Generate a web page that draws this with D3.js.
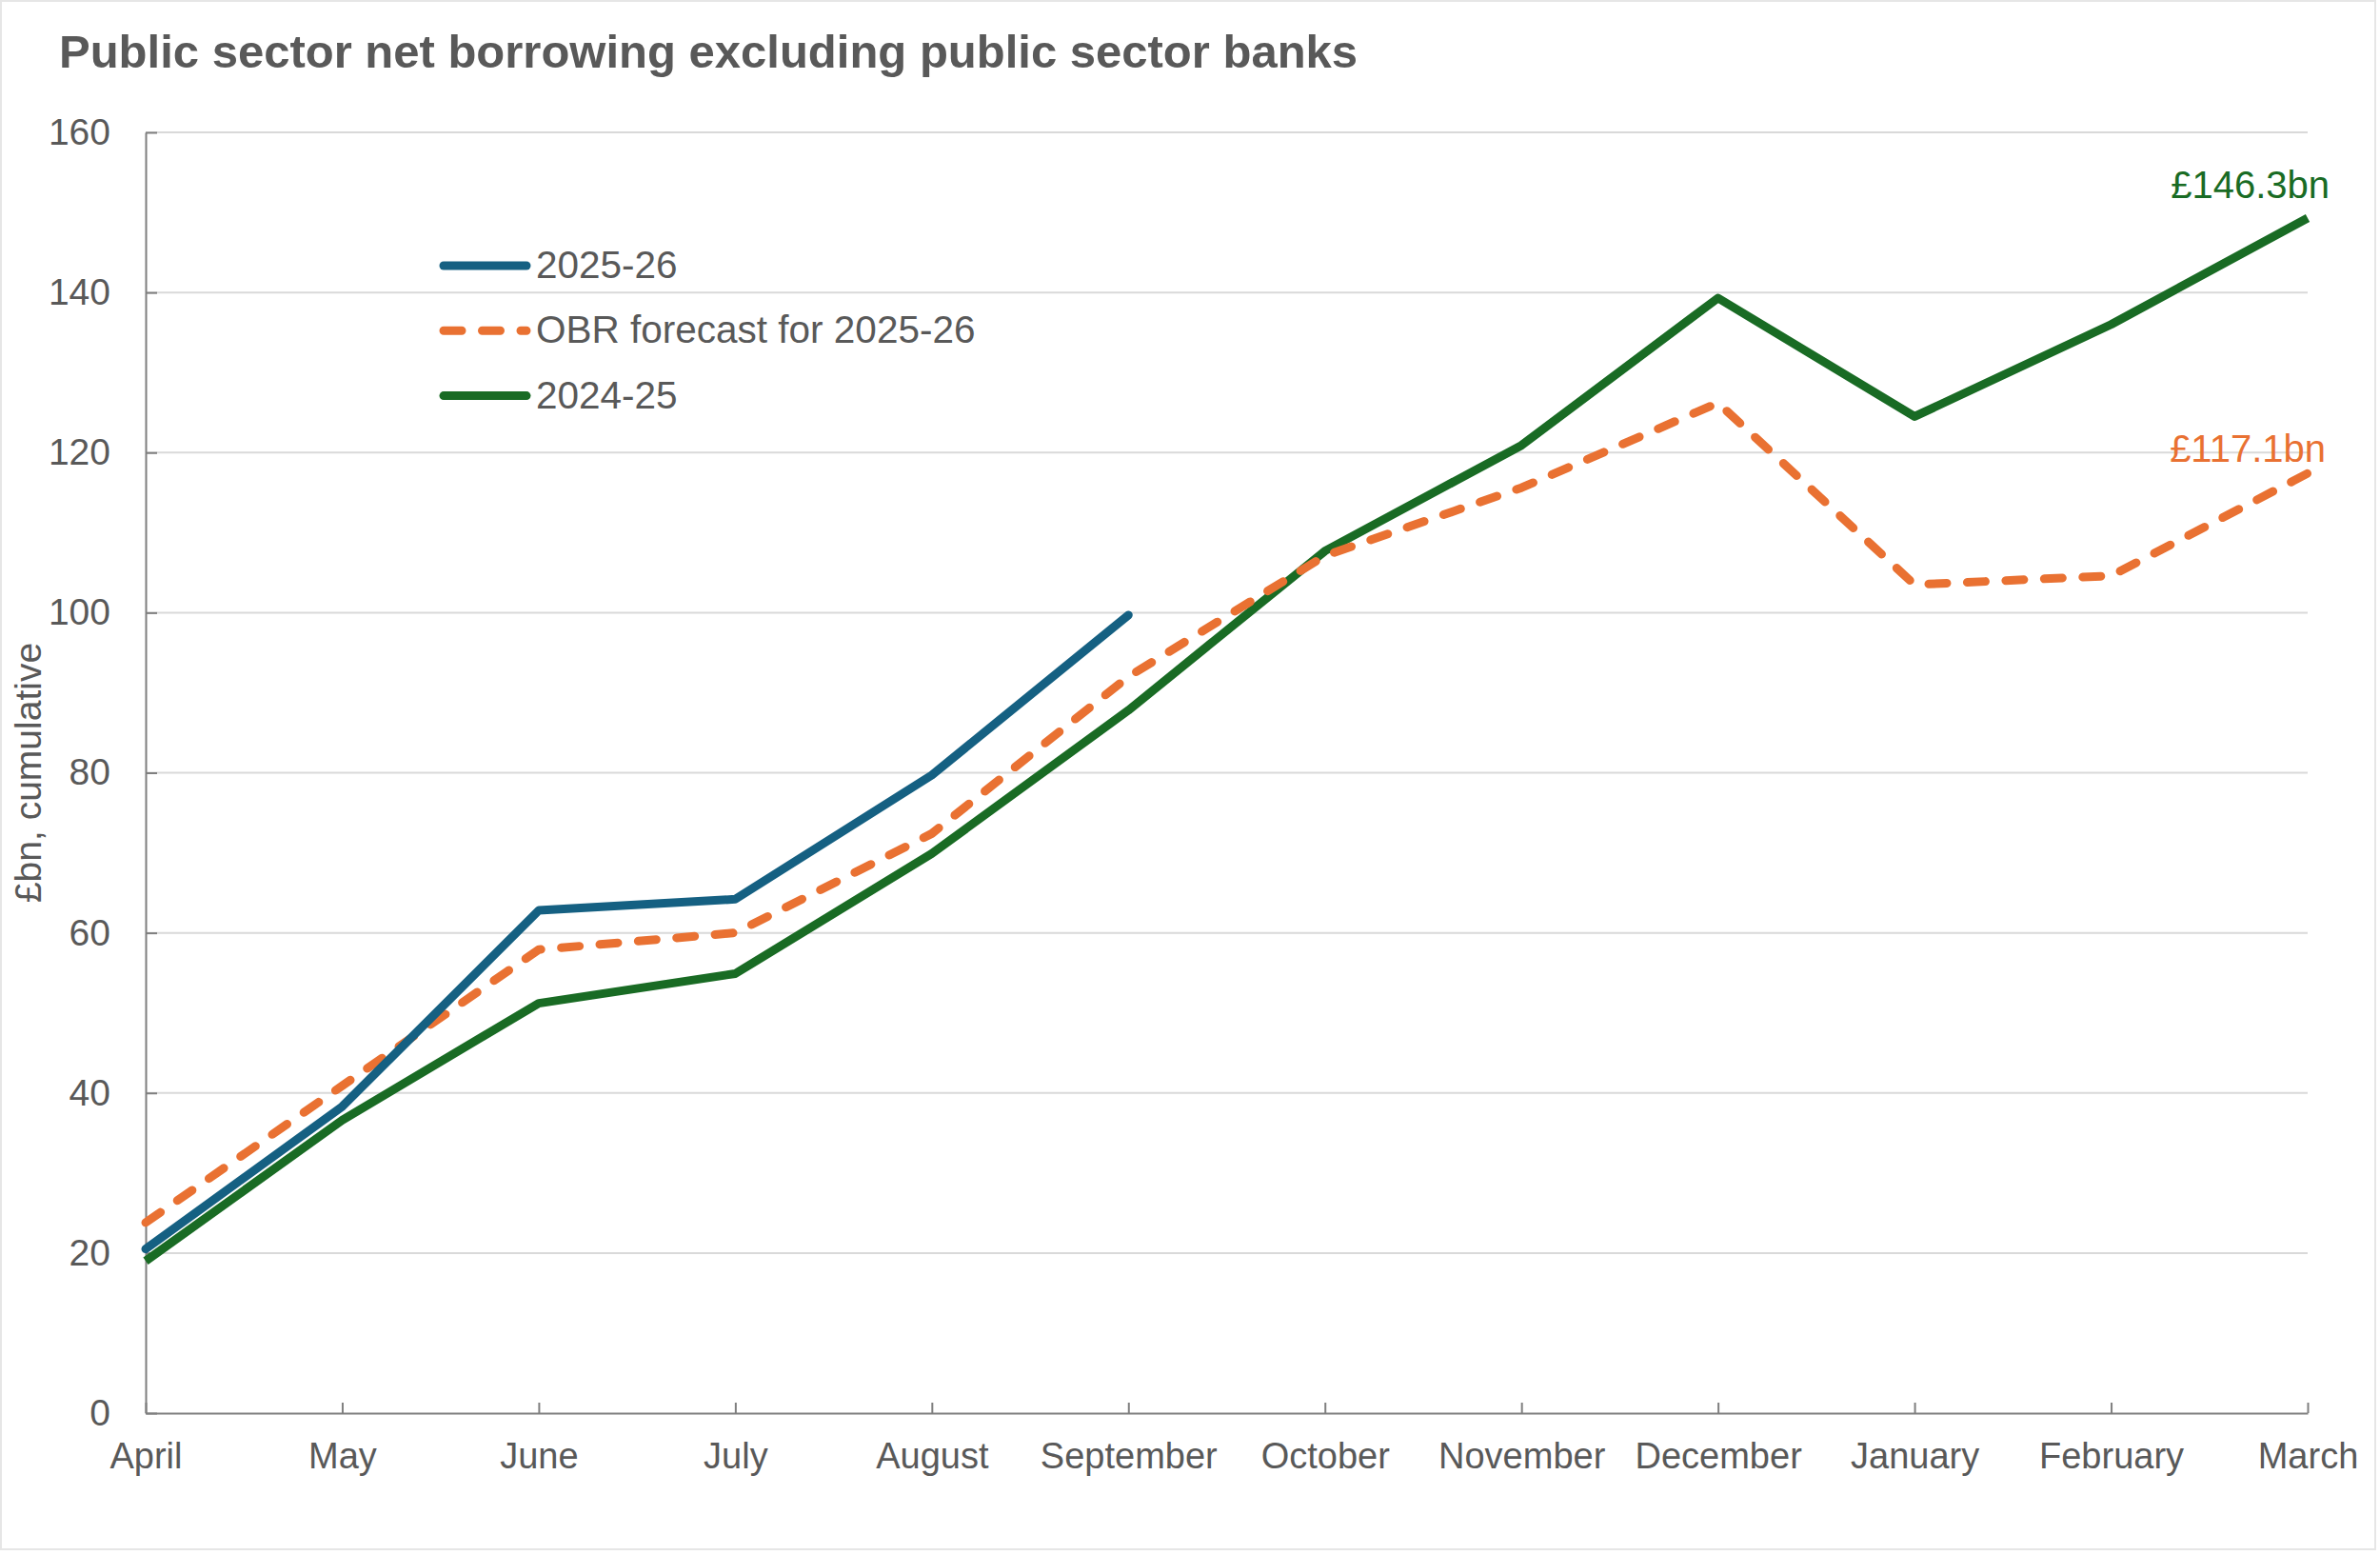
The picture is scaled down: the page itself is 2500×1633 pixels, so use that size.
<!DOCTYPE html>
<html>
<head>
<meta charset="utf-8">
<script src="https://cdn.jsdelivr.net/npm/d3@7"></script>
<style>
  body { margin: 0; background: #fff; }
  text { font-family: "Liberation Sans", Arial, sans-serif; fill: #595959; }
</style>
</head>
<body>
<svg id="chart"></svg>
<script>
// months of the financial year
const months = ["April", "May", "June", "July", "August", "September",
  "October", "November", "December", "January", "February", "March"]

// cumulative borrowing, £bn
const borrowing2526 = [20.5, 38.3, 62.8, 64.2, 79.7, 99.7]
const obrForecast = [23.8, 40.9, 57.9, 60.0, 72.4, 92.0, 107.1, 115.6, 126.2, 103.5, 104.6, 117.4]
const borrowing2425 = [19.0, 36.6, 51.2, 54.9, 69.9, 87.8, 107.7, 120.9, 139.3, 124.5, 136.0, 149.3]

const yTicks = [0, 20, 40, 60, 80, 100, 120, 140, 160]

const seriesNames = ["2025-26", "OBR forecast for 2025-26", "2024-25"]
const seriesColors = ["#156082", "#E97132", "#196B24"]
const endLabels = ["", "£117.1bn", "£146.3bn"]

const W = 2500, H = 1633
const margin = { top: 139, right: 76, bottom: 149, left: 153 }

let svg = d3.select("#chart")
  .attr("width", W)
  .attr("height", H)

// faint frame round the chart area
svg.append("rect")
  .attr("x", 1).attr("y", 1)
  .attr("width", W - 6).attr("height", H - 7)
  .attr("fill", "none")
  .attr("stroke", "#E6E6E6")
  .attr("stroke-width", 2)

let xScale = d3.scalePoint()
  .domain(months)
  .range([margin.left, W - margin.right])

let yScale = d3.scaleLinear()
  .domain([0, 160])
  .range([H - margin.bottom, margin.top])

// title
svg.append("text")
  .attr("x", 62)
  .attr("y", 71)
  .style("font-size", "49px")
  .style("font-weight", "bold")
  .text("Public sector net borrowing excluding public sector banks")

// gridlines
svg.append("g")
  .selectAll("line")
  .data(yTicks.filter(d => d > 0))
  .enter().append("line")
    .attr("x1", margin.left)
    .attr("x2", W - margin.right)
    .attr("y1", d => yScale(d))
    .attr("y2", d => yScale(d))
    .attr("stroke", "#D9D9D9")
    .attr("stroke-width", 2)

// y axis
let yAxis = svg.append("g")
  .attr("transform", "translate(" + margin.left + ",0)")
  .call(d3.axisLeft(yScale).tickValues(yTicks).tickSize(-12).tickSizeOuter(0).tickPadding(37))
yAxis.selectAll("text").style("font-size", "39px").attr("fill", "#595959")

// x axis
let xAxis = svg.append("g")
  .attr("transform", "translate(0," + yScale(0) + ")")
  .call(d3.axisBottom(xScale).tickSize(-11).tickSizeOuter(0).tickPadding(31))
xAxis.selectAll("text").style("font-size", "38px").attr("fill", "#595959")

svg.selectAll(".domain, .tick line")
  .attr("stroke", "#7F7F7F")
  .attr("stroke-width", 2)

// y axis title
svg.append("text")
  .attr("transform", "translate(43," + ((yScale(0) + yScale(160)) / 2) + ") rotate(-90)")
  .attr("text-anchor", "middle")
  .style("font-size", "39px")
  .text("£bn, cumulative")

// lines
const allSeries = [borrowing2526, obrForecast, borrowing2425]
const lineGen = d3.line()
  .x((d, i) => xScale(months[i]))
  .y(d => yScale(d))

const drawOrder = [2, 1, 0]
drawOrder.forEach(k => {
  svg.append("path")
    .datum(allSeries[k])
    .attr("d", lineGen)
    .attr("fill", "none")
    .attr("stroke", seriesColors[k])
    .attr("stroke-width", 9)
    .attr("stroke-linejoin", "round")
    .attr("stroke-linecap", k == 2 ? "butt" : "round")
    .attr("stroke-dasharray", k == 1 ? "19,21.5" : null)
})

// end labels
const labelY = [0, 485, 208]
const labelX = [0, 2443, 2447]
;[1, 2].forEach(k => {
  svg.append("text")
    .attr("x", labelX[k])
    .attr("y", labelY[k])
    .attr("text-anchor", "end")
    .style("font-size", "40px")
    .style("fill", seriesColors[k])
    .text(endLabels[k])
})

// legend
const legend = svg.append("g")
  .attr("transform", "translate(466, 279)")

legend.selectAll("path")
  .data(seriesNames)
  .enter().append("path")
    .attr("d", (d, i) => "M0," + (i * 68.3) + "H87")
    .attr("stroke", (d, i) => seriesColors[i])
    .attr("stroke-width", 9)
    .attr("stroke-linecap", "round")
    .attr("stroke-dasharray", (d, i) => i == 1 ? "19,21.5" : null)

legend.selectAll("text")
  .data(seriesNames)
  .enter().append("text")
    .text(d => d)
    .attr("x", 97)
    .attr("y", (d, i) => i * 68.3 + 13)
    .style("font-size", "40.5px")
</script>
</body>
</html>
